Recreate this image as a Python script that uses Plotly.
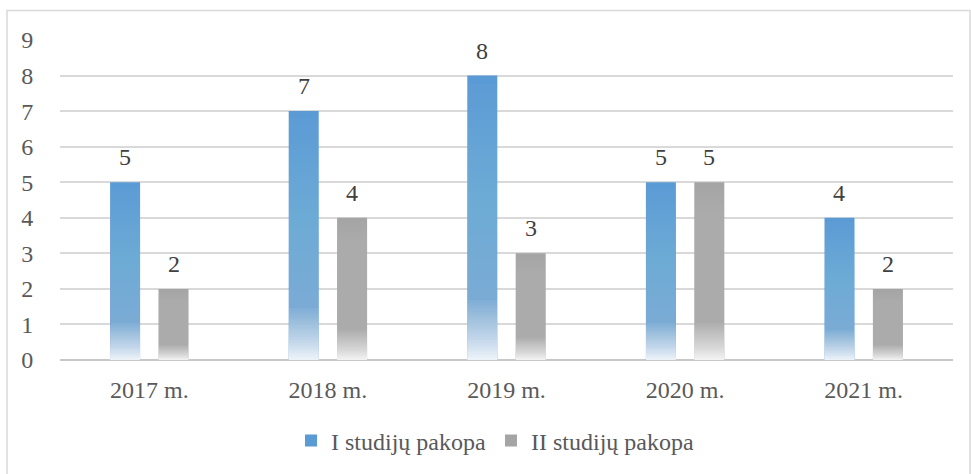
import numpy as np
import plotly.graph_objects as go

# ---- data ----
categories = ["2017 m.", "2018 m.", "2019 m.", "2020 m.", "2021 m."]
pakopa_I = [5, 7, 8, 5, 4]
pakopa_II = [2, 4, 3, 5, 2]
series_names = ["I studijų pakopa", "II studijų pakopa"]
y_ticks = list(range(0, 10))

# ---- style ----
FONT = "Liberation Serif"
COLORS = ["#5b9bd5", "#a5a5a5"]
TICK_COLOR = "#595959"
LABEL_COLOR = "#404040"

# gradient simulation: white overlay layers (fraction of bar height, from bottom)
def white_alpha(h):
    if h >= 0.22:
        return 0.30 * (1 - h) / 0.78
    return 0.30 + 0.62 * (0.22 - h) / 0.22

levels = np.concatenate([np.linspace(0.97, 0.23, 30), np.linspace(0.21, 0.01, 21)])
nxt = np.append(levels[1:], 0.0)
alphas = []
T_prev = 1.0
for hk, hn in zip(levels, nxt):
    T = 1 - white_alpha((hk + hn) / 2)
    alphas.append(max(0.0, 1 - T / T_prev))
    T_prev = T

fig = go.Figure()
for si, (name, vals, col) in enumerate(zip(series_names, [pakopa_I, pakopa_II], COLORS)):
    grp = f"g{si}"
    fig.add_trace(go.Bar(
        x=categories, y=vals, name=name, offsetgroup=grp,
        marker=dict(color=col, line=dict(width=0)),
        hoverinfo="x+y+name",
    ))
    for hk, a in zip(levels, alphas):
        fig.add_trace(go.Bar(
            x=categories, y=[v * hk for v in vals], offsetgroup=grp,
            marker=dict(color=f"rgba(255,255,255,{a:.4f})", line=dict(width=0)),
            showlegend=False, hoverinfo="skip",
        ))

# data labels
bargap = 0.458
half_slot = (893 / len(categories)) * (1 - bargap) / 4
annotations = []
for si, vals in enumerate([pakopa_I, pakopa_II]):
    sh = -half_slot if si == 0 else half_slot
    for c, v in zip(categories, vals):
        annotations.append(dict(
            x=c, y=v, xref="x", yref="y", text=str(v), showarrow=False,
            xshift=sh, yshift=25, yanchor="middle",
            font=dict(family=FONT, size=24, color=LABEL_COLOR),
        ))

# outer chart border
L, R, T, B, W, H = 60, 18, 40, 113, 971, 474
pw, ph = W - L - R, H - T - B
def px_to_paper_x(px):
    return (px - L) / pw
def px_to_paper_y(py):
    return (H - B - py) / ph

fig.add_shape(type="rect", xref="paper", yref="paper",
              x0=px_to_paper_x(7), x1=px_to_paper_x(970),
              y0=px_to_paper_y(490), y1=px_to_paper_y(10.5),
              line=dict(color="#d9d9d9", width=1.5), fillcolor="rgba(0,0,0,0)", layer="below")

fig.update_layout(
    width=W, height=H,
    margin=dict(l=L, r=R, t=T, b=B, pad=0),
    paper_bgcolor="white", plot_bgcolor="white",
    barmode="group", bargap=bargap, bargroupgap=0.38,
    font=dict(family=FONT, size=24, color=TICK_COLOR),
    showlegend=True,
    legend=dict(orientation="h", x=px_to_paper_x(495), xanchor="center", y=px_to_paper_y(441), yanchor="middle",
                font=dict(family=FONT, size=24, color=TICK_COLOR), itemclick=False,
                traceorder="normal"),
    annotations=annotations,
    xaxis=dict(showgrid=False, showline=False, zeroline=False,
               ticks="outside", ticklen=8, tickcolor="rgba(0,0,0,0)",
               tickfont=dict(family=FONT, size=24, color=TICK_COLOR)),
    yaxis=dict(range=[0, 9], tickvals=y_ticks, showgrid=True, gridcolor="#d9d9d9", gridwidth=1.5,
               zeroline=True, zerolinecolor="#c8c8c8", zerolinewidth=1.5, showline=False,
               ticks="outside", ticklen=21, tickcolor="rgba(0,0,0,0)",
               tickfont=dict(family=FONT, size=24, color=TICK_COLOR)),
)

fig.write_html("out.html", config={"displayModeBar": False},
               post_script="document.body.style.margin='0';document.body.style.overflow='hidden';")
